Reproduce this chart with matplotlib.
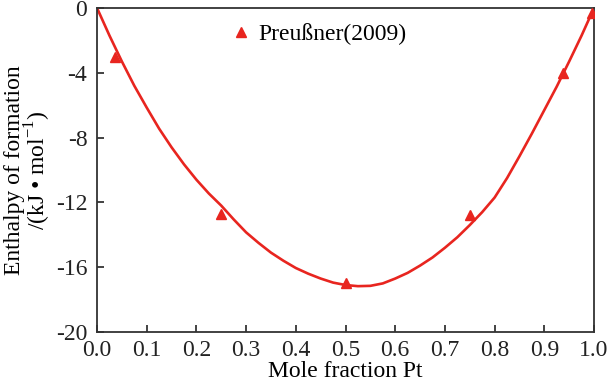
import numpy as np
import matplotlib
matplotlib.use("Agg")
import matplotlib.pyplot as plt

plt.rcParams['font.family'] = ['Liberation Serif', 'DejaVu Serif']
plt.rcParams['mathtext.fontset'] = 'custom'
plt.rcParams['mathtext.rm'] = 'Liberation Serif'
plt.rcParams['axes.unicode_minus'] = False

# experimental points (Preußner 2009)
exp_x = [0.036, 0.25, 0.50, 0.75, 0.937, 0.995]
exp_y = [-3.0, -12.7, -17.0, -12.8, -4.0, -0.3]

# calculated curve
fit_x = [0.0, 0.025, 0.05, 0.075, 0.1, 0.125, 0.15, 0.175, 0.2, 0.225, 0.25,
         0.275, 0.3, 0.325, 0.35, 0.375, 0.4, 0.425, 0.45, 0.475, 0.5,
         0.525, 0.55, 0.575, 0.6, 0.625, 0.65, 0.675, 0.7, 0.725, 0.75,
         0.775, 0.8, 0.825, 0.85, 0.875, 0.9, 0.925, 0.95, 0.975, 1.0]
fit_y = [0.0, -1.7, -3.3, -4.8, -6.15, -7.45, -8.6, -9.65, -10.6, -11.45, -12.2,
         -13.05, -13.85, -14.5, -15.1, -15.6, -16.05, -16.4, -16.7, -16.95, -17.1,
         -17.17, -17.15, -17.0, -16.7, -16.35, -15.9, -15.4, -14.8, -14.15, -13.4,
         -12.6, -11.7, -10.5, -9.15, -7.75, -6.3, -4.85, -3.3, -1.7, 0.0]

xticks = np.round(np.arange(0, 1.01, 0.1), 1)
yticks = [0, -4, -8, -12, -16, -20]

red = '#e8251f'
fs = 17

fig = plt.figure(figsize=(6.11, 3.88), dpi=100)
ax = fig.add_axes([0.1588, 0.1443, 0.8134, 0.8351])

ax.plot(fit_x, fit_y, color=red, lw=1.9, zorder=2)
ax.plot(exp_x, exp_y, '^', color=red, ms=7.5, ls='none', label='Preußner(2009)', zorder=3)

ax.set_xlim(0, 1)
ax.set_ylim(-20, 0)
ax.set_xticks(xticks)
ax.set_xticklabels([f'{t:.1f}' for t in xticks])
ax.set_yticks(yticks)
ax.set_yticklabels([str(t) for t in yticks])
ax.tick_params(direction='in', length=5, width=1.2, labelsize=fs, colors='#222222')
ax.tick_params(axis='x', pad=6)
ax.tick_params(axis='y', pad=7)
for s in ax.spines.values():
    s.set_linewidth(1.3)
    s.set_color('#333333')

ax.set_xlabel('Mole fraction Pt', fontsize=fs, labelpad=0)
ax.set_ylabel('Enthalpy of formation\n/(kJ • mol$^{-1}$)', fontsize=fs, labelpad=2, linespacing=0.9)

ax.legend(loc='upper left', bbox_to_anchor=(0.268, 0.952), frameon=False, fontsize=fs,
          handlelength=0.9, handletextpad=0.3, borderpad=0, borderaxespad=0)

fig.savefig('out.png', dpi=100)
